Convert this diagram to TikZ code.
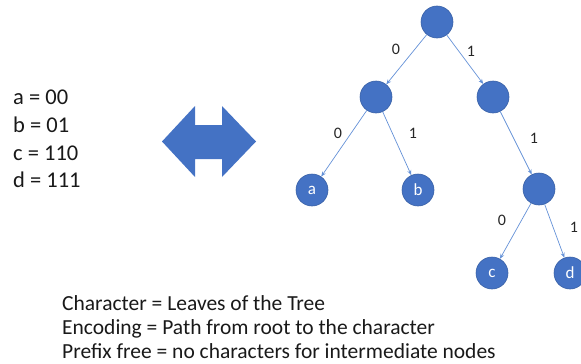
\documentclass[tikz,border=0pt]{standalone}
\usepackage{fontspec}
\setmainfont{Carlito}
\usetikzlibrary{arrows.meta}
\definecolor{treeblue}{RGB}{68,114,196}
\definecolor{edgeblue}{RGB}{100,145,215}
\tikzset{
  knot/.style={circle,fill=treeblue,draw=treeblue!85!black,line width=0.6pt,
    minimum size=32pt,inner sep=0pt,text=white,font=\fontsize{17}{20}\selectfont},
  branch/.style={draw=edgeblue,line width=0.7pt,-{Stealth[length=5pt,width=4pt]}},
  bit/.style={font=\fontsize{16}{19}\selectfont,text=black!85,inner sep=0pt},
  codeline/.style={anchor=base west,inner sep=0pt,font=\fontsize{22.5}{27}\selectfont,text=black!90},
  noteline/.style={anchor=base west,inner sep=0pt,font=\fontsize{21.5}{24}\selectfont,text=black!90}
}
\begin{document}
\begin{tikzpicture}[x=1pt,y=-1pt]
\useasboundingbox (0,0) rectangle (581,364);
% code table
\node[codeline] (ca) at (13,104) {a = 00};
\node[codeline] (cb) at (13,132) {b = 01};
\node[codeline] (cc) at (13,160) {c = 110};
\node[codeline] (cd) at (13,187) {d = 111};
% double arrow
\fill[treeblue] (162,141.5) -- (195,106) -- (195,125) -- (222,125) -- (222,106)
  -- (256,141.5) -- (222,177) -- (222,159) -- (195,159) -- (195,177) -- cycle;
% tree
\node[knot] (root) at (437,22) {};
\node[knot] (n0) at (376,97) {};
\node[knot] (n1) at (493,97) {};
\node[knot] (a) at (312,190) {a};
\node[knot] (b) at (418,190) {b};
\node[knot] (n11) at (539,189) {};
\node[knot] (c) at (492,273) {c};
\node[knot] (d) at (570,273) {d};
\draw[branch] (root) -- (n0);
\draw[branch] (root) -- (n1);
\draw[branch] (n0) -- (a);
\draw[branch] (n0) -- (b);
\draw[branch] (n1) -- (n11);
\draw[branch] (n11) -- (c);
\draw[branch] (n11) -- (d);
% edge labels
\node[bit] (e1) at (396,49) {0};
\node[bit] (e2) at (471,51) {1};
\node[bit] (e3) at (338,133) {0};
\node[bit] (e4) at (413,133) {1};
\node[bit] (e5) at (534,138) {1};
\node[bit] (e6) at (502,220) {0};
\node[bit] (e7) at (574,227) {1};
% notes
\node[noteline] (t1) at (62,310) {Character = Leaves of the Tree};
\node[noteline] (t2) at (62,334) {Encoding = Path from root to the character};
\node[noteline] (t3) at (62,358) {Prefix free = no characters for intermediate nodes};
\end{tikzpicture}
\end{document}
